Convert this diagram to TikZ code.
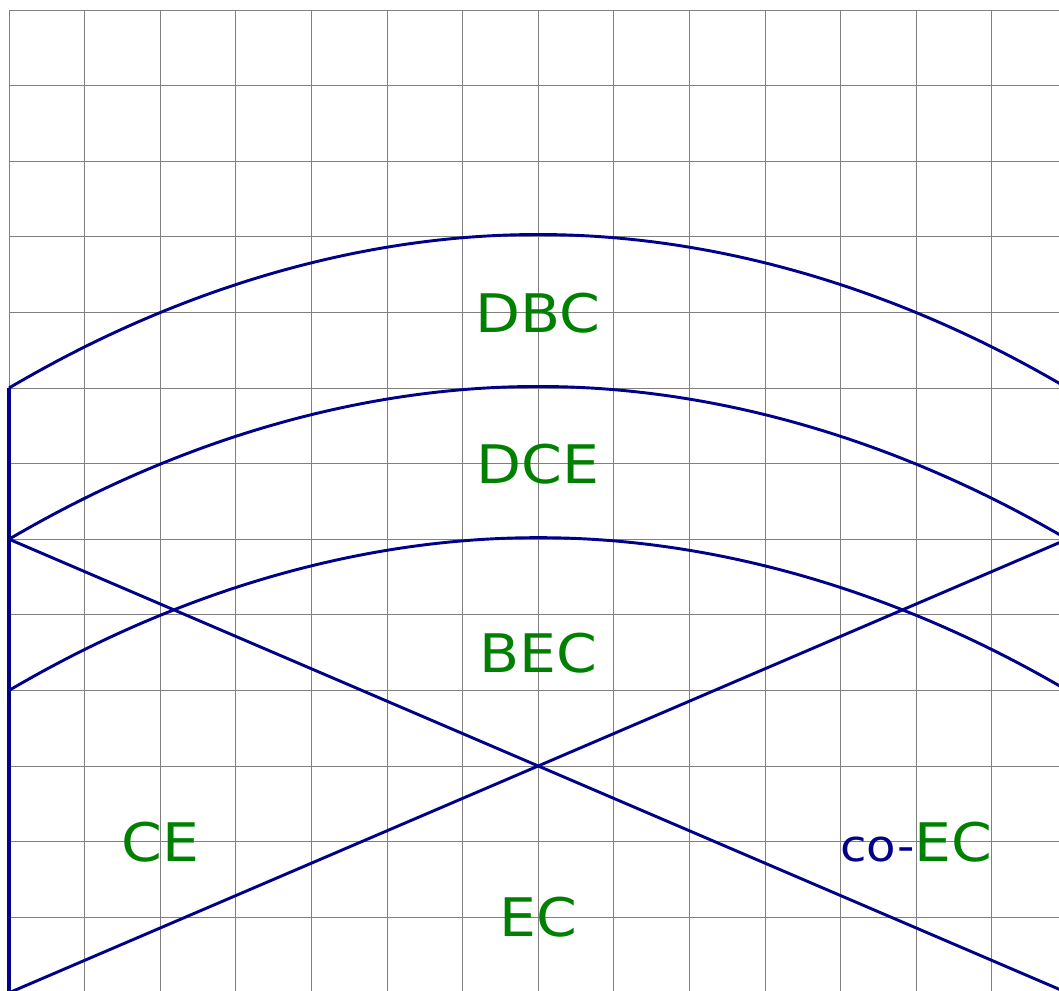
\documentclass[tikz,border=0pt]{standalone}
\usepackage{fontspec}
\setmainfont{DejaVu Sans}
\newfontfamily\labfont[FakeStretch=1.1]{DejaVu Sans}
\definecolor{lineblue}{RGB}{0,0,139}
\definecolor{labgreen}{RGB}{0,128,0}
\begin{document}
\begin{tikzpicture}[
  gridline/.style={draw=gray, line width=0.35pt},
  curve/.style={draw=lineblue, line width=1.1pt},
  axisline/.style={draw=lineblue, line width=1.5pt},
  lab/.style={text=labgreen, font=\labfont\fontsize{20}{24}\selectfont, anchor=base, inner sep=0pt}
]
\useasboundingbox (-0.119,0.024) rectangle (13.889,13.132);
\begin{scope}
\clip (-0.119,0.024) rectangle (13.889,13.132);
\draw[gridline] (0,0) grid (14,13);
% coordinates
\coordinate (L8) at (0,8);
\coordinate (L6) at (0,6);
\coordinate (L4) at (0,4);
\coordinate (L0) at (0,0);
\coordinate (R8) at (14,8);
\coordinate (R6) at (14,6);
\coordinate (R4) at (14,4);
\coordinate (R0) at (14,0);
\coordinate (X) at (7,3);
% arcs (parabolas)
\draw[curve] (L8) parabola bend (7,10.03) (R8);
\draw[curve] (L6) parabola bend (7,8.02) (R6);
\draw[curve] (L4) parabola bend (7,6.02) (R4);
% crossing lines
\draw[curve] (L6) -- (X) -- (R0);
\draw[curve] (L0) -- (X) -- (R6);
\draw[axisline] (L8) -- (0,-0.2);
\end{scope}
\node[lab] (dbc) at (7,8.74) {DBC};
\node[lab] (dce) at (7,6.74) {DCE};
\node[lab] (bec) at (7,4.24) {BEC};
\node[lab] (ce) at (2,1.74) {CE};
\node[lab] (ec) at (7,0.74) {EC};
\node[lab] (coec) at (12,1.74) {{\color{lineblue}\fontsize{16.5}{20}\selectfont co-}EC};
\end{tikzpicture}
\end{document}
